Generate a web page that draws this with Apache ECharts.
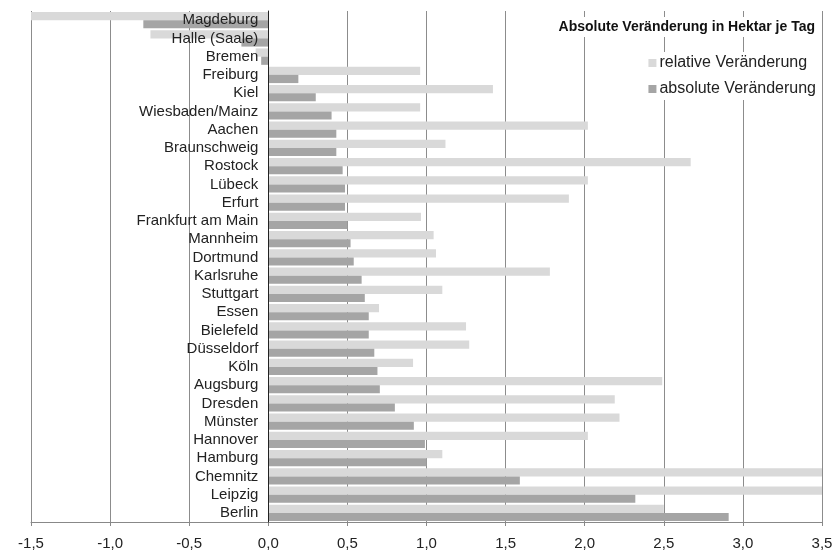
<!DOCTYPE html>
<html>
<head>
<meta charset="utf-8">
<script src="https://cdn.jsdelivr.net/npm/echarts@6/dist/echarts.min.js"></script>
<style>
  html, body { margin: 0; padding: 0; background: #fff; }
  #chart { width: 837px; height: 554px; }
</style>
</head>
<body>
<div id="chart"></div>
<script>
// Städte von oben nach unten
const cities = [
  'Magdeburg', 'Halle (Saale)', 'Bremen', 'Freiburg', 'Kiel', 'Wiesbaden/Mainz',
  'Aachen', 'Braunschweig', 'Rostock', 'Lübeck', 'Erfurt', 'Frankfurt am Main',
  'Mannheim', 'Dortmund', 'Karlsruhe', 'Stuttgart', 'Essen', 'Bielefeld',
  'Düsseldorf', 'Köln', 'Augsburg', 'Dresden', 'Münster', 'Hannover',
  'Hamburg', 'Chemnitz', 'Leipzig', 'Berlin'
]
const relative = [
  -1.6, -0.745, -0.08, 0.96, 1.42, 0.96,
  2.02, 1.12, 2.67, 2.02, 1.90, 0.965,
  1.045, 1.06, 1.78, 1.10, 0.70, 1.25,
  1.27, 0.915, 2.49, 2.19, 2.22, 2.02,
  1.10, 3.6, 3.6, 2.50
]
const absolute = [
  -0.79, -0.17, -0.045, 0.19, 0.30, 0.40,
  0.43, 0.43, 0.47, 0.485, 0.485, 0.50,
  0.52, 0.54, 0.59, 0.61, 0.635, 0.635,
  0.67, 0.69, 0.705, 0.80, 0.92, 0.99,
  1.00, 1.59, 2.32, 2.91
]
const xMin = -1.5
const xMax = 3.5
const xStep = 0.5

const chart = echarts.init(document.getElementById('chart'))

const font = 'Liberation Sans, Arial, sans-serif'
const GRID_LEFT = 31
const GRID_RIGHT = 15
const plotWidth = 837 - GRID_LEFT - GRID_RIGHT
// Kategorienachse sitzt bei x = 0, Beschriftung links davon
const zeroOffset = -plotWidth * (0 - xMin) / (xMax - xMin)

const option = {
  animation: false,
  textStyle: { fontFamily: font },
  title: {
    text: 'Absolute Veränderung in Hektar je Tag',
    right: 18,
    top: 17,
    padding: [3, 4],
    backgroundColor: '#fff',
    textStyle: { fontSize: 14, fontWeight: 'bold', color: '#111', fontFamily: font }
  },
  legend: {
    orient: 'vertical',
    right: 17,
    top: 52,
    padding: [3, 4],
    backgroundColor: '#fff',
    itemWidth: 8,
    itemHeight: 8,
    itemGap: 10,
    icon: 'rect',
    textStyle: { fontSize: 16, color: '#222', padding: [0, 0, 0, -2] },
    data: ['relative Veränderung', 'absolute Veränderung']
  },
  grid: { left: GRID_LEFT, right: GRID_RIGHT, top: 11, bottom: 32, outerBoundsMode: 'none' },
  xAxis: {
    type: 'value',
    min: xMin,
    max: xMax,
    interval: xStep,
    axisLine: { show: true, onZero: false, lineStyle: { color: '#888' } },
    axisTick: { show: true, length: 4, lineStyle: { color: '#888' } },
    axisLabel: {
      fontSize: 15,
      color: '#222',
      margin: 14,
      formatter: v => v.toFixed(1).replace('.', ',')
    },
    splitLine: { show: true, lineStyle: { color: '#8c8c8c', width: 1 } }
  },
  yAxis: {
    type: 'category',
    inverse: true,
    data: cities,
    offset: zeroOffset,
    z: 10,
    axisLine: { show: true, onZero: false, lineStyle: { color: '#222', width: 1 } },
    axisTick: { show: false },
    axisLabel: { fontSize: 15, color: '#222', margin: 10, interval: 0, hideOverlap: false }
  },
  series: [
    {
      name: 'relative Veränderung',
      type: 'bar',
      data: relative,
      itemStyle: { color: '#d9d9d9' },
      barGap: '0%',
      barCategoryGap: '10%',
      clip: true
    },
    {
      name: 'absolute Veränderung',
      type: 'bar',
      data: absolute,
      itemStyle: { color: '#a5a5a5' },
      clip: true
    }
  ]
}

chart.setOption(option)
</script>
</body>
</html>
